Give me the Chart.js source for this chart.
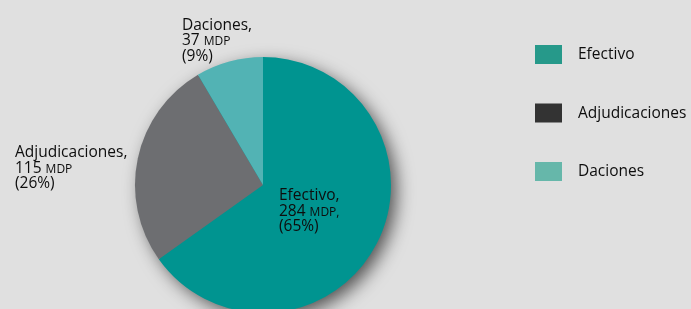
<!DOCTYPE html>
<html>
<head>
<meta charset="utf-8">
<script src="https://cdn.jsdelivr.net/npm/chart.js@4/dist/chart.umd.min.js"></script>
<style>
  html, body { margin: 0; padding: 0; background: #e0e0e0; overflow: hidden; width: 691px; height: 309px; }
  #wrap { position: absolute; left: 0; top: 0; width: 691px; height: 330px; }
</style>
</head>
<body>
<div id="wrap"><canvas id="c"></canvas></div>
<script>
// ---- data ----
const categories = ["Efectivo", "Adjudicaciones", "Daciones"];
const values = [284, 115, 37];           // MDP
const percentLabels = [65, 26, 9];       // as printed
const sliceColors = ["#009490", "#6d6e71", "#52b3b4"];
const legendColors = ["#26998a", "#333333", "#66b7aa"];

const FONT = "'Open Sans', 'Noto Sans', sans-serif";
const TEXT = "#0d0d0d";

const shadowPlugin = {
  id: 'pieShadow',
  beforeDatasetsDraw(chart) {
    const arc = chart.getDatasetMeta(0).data[0];
    if (!arc) return;
    const ctx = chart.ctx;
    ctx.save();
    ctx.shadowColor = 'rgba(0,0,0,0.65)';
    ctx.shadowBlur = 18;
    ctx.shadowOffsetX = 6;
    ctx.shadowOffsetY = 6;
    ctx.beginPath();
    ctx.arc(arc.x, arc.y, arc.outerRadius - 1, 0, Math.PI * 2);
    ctx.fillStyle = sliceColors[0];
    ctx.fill();
    ctx.restore();
  }
};

function drawLabel(ctx, x, y, lines, lh) {
  lines.forEach((parts, i) => {
    let cx = x;
    parts.forEach(p => {
      ctx.font = p.size + "px " + FONT;
      ctx.fillText(p.t, cx, y + i * lh);
      cx += ctx.measureText(p.t).width;
    });
  });
}

const labelPlugin = {
  id: 'sliceLabels',
  afterDatasetsDraw(chart) {
    const arc = chart.getDatasetMeta(0).data[0];
    const cx = arc.x, cy = arc.y, r = arc.outerRadius;
    const ctx = chart.ctx;
    ctx.save();
    ctx.fillStyle = TEXT;
    ctx.textBaseline = 'alphabetic';
    ctx.textAlign = 'left';
    const big = 15.5, small = 12;
    const mk = (i, trailing) => [
      [{t: categories[i] + ",", size: big}],
      [{t: values[i] + " ", size: big}, {t: "MDP" + trailing, size: small}],
      [{t: "(" + percentLabels[i] + "%)", size: big}]
    ];
    const lh = 15.5;
    // anchors relative to the pie geometry
    const anchors = [
      {x: cx + 16, y: cy + 15, trailing: ","},
      {x: cx - r - 120, y: cy - 28, trailing: ""},
      {x: cx - 81, y: cy - r - 27.5, trailing: ""}
    ];
    anchors.forEach((a, i) => drawLabel(ctx, a.x, a.y, mk(i, a.trailing), lh));
    ctx.restore();
  }
};

const legendPlugin = {
  id: 'sideLegend',
  afterDraw(chart) {
    const ctx = chart.ctx;
    ctx.save();
    const x0 = 535, y0 = 45, step = 58.5, bw = 27, bh = 19;
    categories.forEach((name, i) => {
      const y = y0 + i * step;
      ctx.fillStyle = legendColors[i];
      ctx.fillRect(x0, y, bw, bh);
      ctx.fillStyle = TEXT;
      ctx.font = "15.5px " + FONT;
      ctx.textBaseline = 'middle';
      ctx.fillText(name, 578, y + bh / 2 + 0.5);
    });
    ctx.restore();
  }
};

new Chart(document.getElementById('c'), {
  type: 'pie',
  data: {
    labels: categories,
    datasets: [{
      data: values,
      backgroundColor: sliceColors,
      borderWidth: 0,
      hoverOffset: 0
    }]
  },
  options: {
    responsive: true,
    maintainAspectRatio: false,
    animation: false,
    events: [],
    layout: { padding: { top: 57, bottom: 17, left: 135, right: 300 } },
    plugins: {
      legend: { display: false },
      tooltip: { enabled: false }
    }
  },
  plugins: [shadowPlugin, labelPlugin, legendPlugin]
});
</script>
</body>
</html>
